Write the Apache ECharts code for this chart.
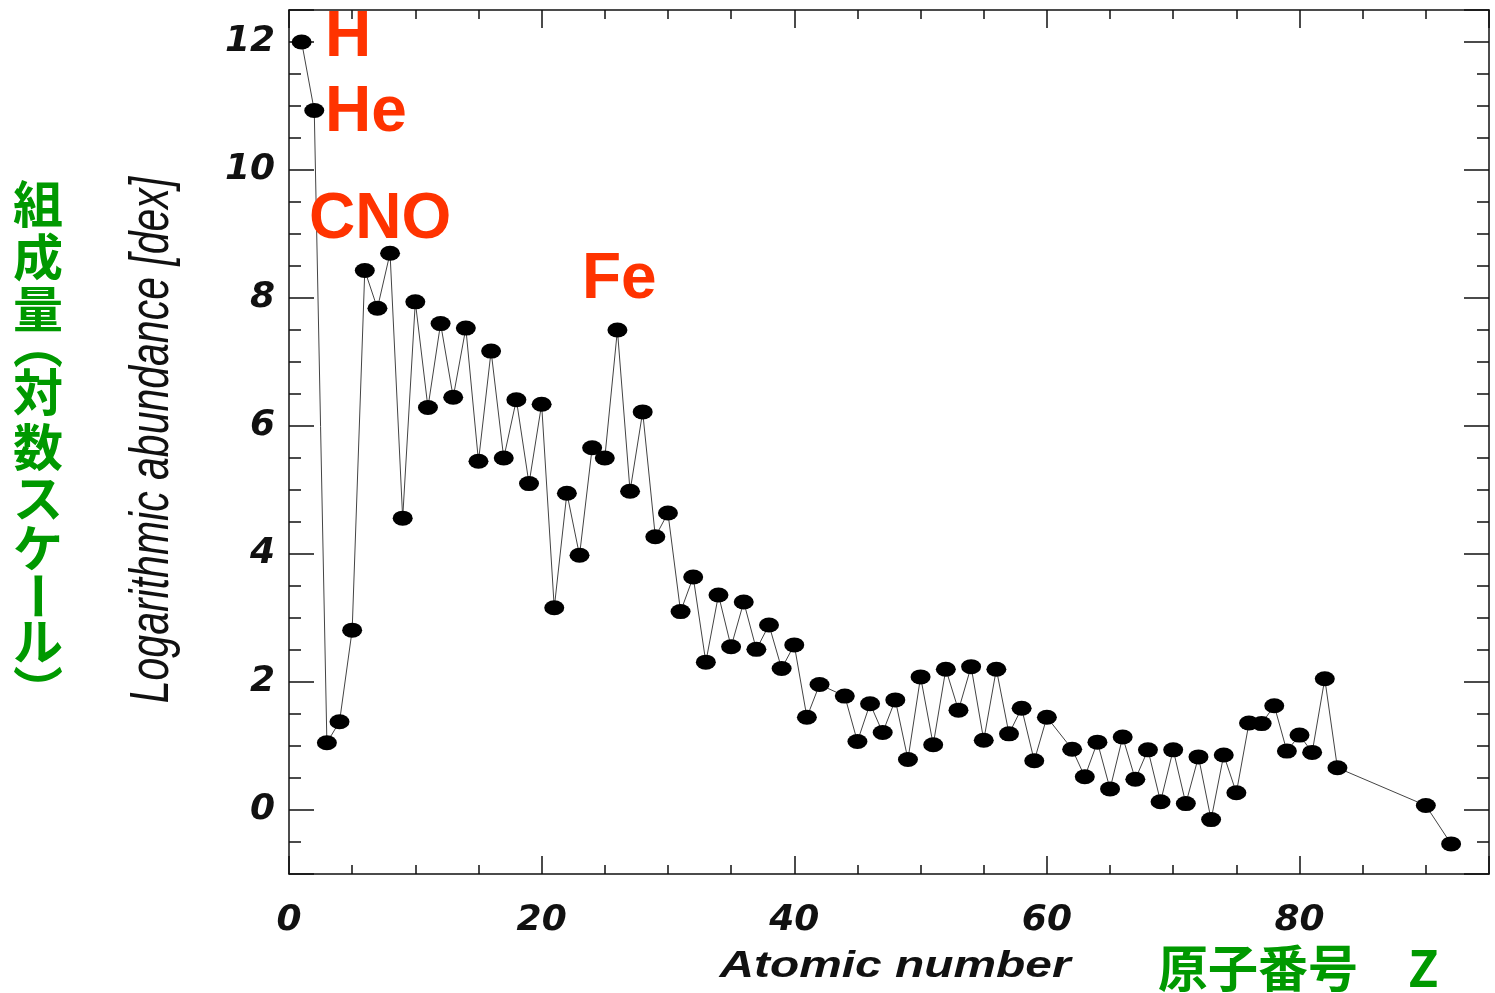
<!DOCTYPE html>
<html>
<head>
<meta charset="utf-8">
<script src="https://cdn.jsdelivr.net/npm/echarts@6/dist/echarts.min.js"></script>
<style>
html,body{margin:0;padding:0;background:#fff;}
#chart{width:1495px;height:993px;}
</style>
</head>
<body>
<div id="chart"></div>
<script>
// Atomic number Z (Tc=43, Pm=61 and 84-89, 91 absent)
const atomicNumbers = [
  1,2,3,4,5,6,7,8,9,10,
  11,12,13,14,15,16,17,18,19,20,
  21,22,23,24,25,26,27,28,29,30,
  31,32,33,34,35,36,37,38,39,40,
  41,42,44,45,46,47,48,49,50,
  51,52,53,54,55,56,57,58,59,60,
  62,63,64,65,66,67,68,69,70,
  71,72,73,74,75,76,77,78,79,80,
  81,82,83,90,92
];
// Logarithmic abundance [dex]
const abundances = [
  12.00,10.93,1.05,1.38,2.81,8.43,7.84,8.70,4.56,7.94,
  6.29,7.60,6.45,7.53,5.45,7.17,5.50,6.41,5.10,6.34,
  3.16,4.95,3.98,5.66,5.50,7.50,4.98,6.22,4.27,4.64,
  3.10,3.64,2.31,3.36,2.55,3.25,2.51,2.89,2.21,2.58,
  1.45,1.96,1.78,1.07,1.66,1.21,1.72,0.79,2.08,
  1.02,2.20,1.56,2.24,1.09,2.20,1.19,1.59,0.77,1.45,
  0.95,0.52,1.06,0.33,1.14,0.48,0.94,0.13,0.94,
  0.10,0.83,-0.15,0.86,0.27,1.36,1.35,1.63,0.92,1.17,
  0.90,2.05,0.66,0.07,-0.53
];
const xTickLabels = [0, 20, 40, 60, 80];
const yTickLabels = [0, 2, 4, 6, 8, 10, 12];
const elementLabels = ['H', 'He', 'CNO', 'Fe'];
const xTitle = 'Atomic number';
const yTitle = 'Logarithmic abundance [dex]';
const xTitleJa = '原子番号　Z';
// vertical writing: parentheses in their vertical presentation forms
const yTitleJa = ['組','成','量','︵','対','数','ス','ケ','ー','ル','︶'];

const seriesData = atomicNumbers.map((z, i) => [z, abundances[i]]);

const axisColor = '#111';
const labelFont = {
  fontFamily: 'DejaVu Sans', fontWeight: 'bold', fontStyle: 'italic',
  fontSize: 36, color: '#111'
};

function xAxisCfg(pos, showLabel) {
  return {
    type: 'value', position: pos, min: 0, max: 95, interval: 20,
    axisLine: { show: true, onZero: false, lineStyle: { color: axisColor, width: 1.5 } },
    axisTick: { show: true, inside: true, length: 18, lineStyle: { color: axisColor, width: 1.5 } },
    minorTick: { show: true, splitNumber: 4, length: 9, lineStyle: { color: axisColor, width: 1.5 } },
    splitLine: { show: false },
    axisLabel: Object.assign({
      show: showLabel, margin: 29,
      formatter: v => (xTickLabels.indexOf(v) >= 0 ? String(v) : '')
    }, labelFont)
  };
}
function yAxisCfg(pos, showLabel) {
  return {
    type: 'value', position: pos, min: -1, max: 12.5,
    splitNumber: 7, minInterval: 2, maxInterval: 2,
    axisLine: { show: true, onZero: false, lineStyle: { color: axisColor, width: 1.5 } },
    axisTick: { show: true, inside: true, length: 25, lineStyle: { color: axisColor, width: 1.5 } },
    minorTick: { show: true, splitNumber: 4, length: 12, lineStyle: { color: axisColor, width: 1.5 } },
    splitLine: { show: false },
    axisLabel: Object.assign({
      show: showLabel, margin: 14, padding: [8, 0, 0, 0],
      formatter: v => (yTickLabels.indexOf(v) >= 0 ? String(v) : '')
    }, labelFont)
  };
}

const red = '#ff3300';
const green = '#009900';
const redFont = { fontFamily: 'Liberation Sans', fontWeight: 'bold', fontSize: 64, fill: red, align: 'left', verticalAlign: 'middle' };
const redPos = [[325, 38], [325, 113], [309, 220], [582, 280]];

const graphics = [];
elementLabels.forEach((t, i) => {
  graphics.push({ type: 'text', x: redPos[i][0], y: redPos[i][1], z: 100,
    style: Object.assign({ text: t }, redFont) });
});
// y-axis title (condensed look: thickness stretched)
graphics.push({ type: 'text', x: 153, y: 440, rotation: Math.PI / 2, scaleX: 1, scaleY: 1.35,
  style: { text: yTitle, fontFamily: 'Liberation Sans', fontStyle: 'italic', fontSize: 41,
    fill: '#111', align: 'center', verticalAlign: 'middle' } });
// x-axis title (wide look)
graphics.push({ type: 'text', x: 895, y: 967, scaleX: 1.33, scaleY: 1,
  style: { text: xTitle, fontFamily: 'Liberation Sans', fontStyle: 'italic', fontWeight: 'bold', fontSize: 36,
    fill: '#111', align: 'center', verticalAlign: 'middle' } });
// Japanese x title
graphics.push({ type: 'text', x: 1158, y: 968,
  style: { text: xTitleJa, fontFamily: 'Noto Sans CJK JP', fontWeight: 'bold', fontSize: 50,
    fill: green, align: 'left', verticalAlign: 'middle' } });
// Japanese vertical y title
const jaCenters = [204, 257, 309, 344, 392, 447, 498, 548, 596, 641, 690];
yTitleJa.forEach((ch, i) => {
  const rot = (ch === 'ー') ? -Math.PI / 2 : 0;
  graphics.push({ type: 'text', x: 38, y: jaCenters[i], rotation: rot,
    style: { text: ch, fontFamily: 'Noto Sans CJK JP', fontWeight: 'bold', fontSize: 50,
      fill: green, align: 'center', verticalAlign: 'middle' } });
});

const chart = echarts.init(document.getElementById('chart'), null, { renderer: 'canvas' });
chart.setOption({
  animation: false,
  backgroundColor: '#fff',
  grid: { left: 289, right: 6, top: 10, bottom: 119, containLabel: false },
  xAxis: [xAxisCfg('bottom', true), xAxisCfg('top', false)],
  yAxis: [yAxisCfg('left', true), yAxisCfg('right', false)],
  series: [{
    type: 'line',
    xAxisIndex: 0, yAxisIndex: 0,
    data: seriesData,
    symbol: 'path://M0,50A50,50 0 1,0 100,50A50,50 0 1,0 0,50Z',
    symbolSize: [20, 15],
    symbolKeepAspect: false,
    showAllSymbol: true,
    clip: false,
    lineStyle: { color: '#444', width: 1 },
    itemStyle: { color: '#000', borderWidth: 0 },
    z: 3
  }],
  graphic: graphics
});
</script>
</body>
</html>
